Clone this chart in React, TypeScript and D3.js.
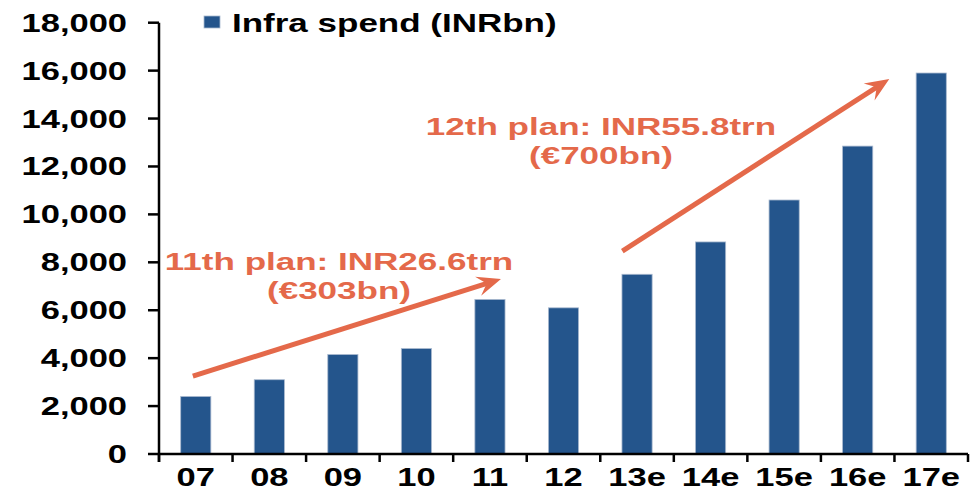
import React from "react";
import * as d3 from "d3";

const categories = ["07", "08", "09", "10", "11", "12", "13e", "14e", "15e", "16e", "17e"];
const infraSpend = [2400, 3100, 4150, 4400, 6450, 6100, 7500, 8850, 10600, 12850, 15900];
const yTicks = [0, 2000, 4000, 6000, 8000, 10000, 12000, 14000, 16000, 18000];
const seriesName = "Infra spend (INRbn)";
// arrow endpoints: [category index position, value]
const plan11Lines = ["11th plan: INR26.6trn", "(€303bn)"];
const plan11Arrow = [[-0.04, 3250], [4.15, 7300]];
const plan12Lines = ["12th plan: INR55.8trn", "(€700bn)"];
const plan12Arrow = [[5.8, 8470], [9.43, 15650]];

const W = 975, H = 493;
const left = 159, right = 968, top = 22.7, bottom = 454;
const BAR = "#24558C";
const ORANGE = "#E4694A";
const SX = 1.38;
const FONT = "'Liberation Sans', Arial, sans-serif";

function SText({ x, y, anchor, size, color, sx, children }: any) {
  return (
    <text
      transform={`translate(${x},${y}) scale(${sx ?? SX},1)`}
      textAnchor={anchor}
      fontFamily={FONT}
      fontWeight="bold"
      fontSize={size}
      fill={color}
    >
      {children}
    </text>
  );
}

export default function App() {
  const x = d3.scaleBand<string>().domain(categories).range([left, right]).paddingInner(0.59).paddingOuter(0.295);
  const xb = d3.scaleBand<string>().domain(categories).range([left, right]);
  const y = d3.scaleLinear().domain([0, 18000]).range([bottom, top]);
  const cx = (c: string) => (xb(c) as number) + xb.bandwidth() / 2;
  const xi = d3.scaleLinear().domain([0, categories.length - 1]).range([cx(categories[0]), cx(categories[categories.length - 1])]);

  const arrow = (x1: number, y1: number, x2: number, y2: number) => {
    const ang = Math.atan2(y2 - y1, x2 - x1);
    const L = 24, Wd = 10, N = 15;
    const ux = Math.cos(ang), uy = Math.sin(ang);
    const px = -uy, py = ux;
    const bx = x2 - ux * L, by = y2 - uy * L;
    const nx = x2 - ux * N, ny = y2 - uy * N;
    const pts = [
      [x2, y2],
      [bx + px * Wd, by + py * Wd],
      [nx, ny],
      [bx - px * Wd, by - py * Wd],
    ];
    return { line: [x1, y1, nx + ux * 2, ny + uy * 2], head: pts.map((p) => p.join(",")).join(" ") };
  };

  const annotations = [
    { lines: plan11Lines, arr: plan11Arrow, lx: 339, ly: 270 },
    { lines: plan12Lines, arr: plan12Arrow, lx: 601, ly: 135 },
  ];

  return (
    <svg width={W} height={H} style={{ position: "absolute", left: 0, top: 0 }}>
      <rect width={W} height={H} fill="#fff" />
      {categories.map((c, i) => (
        <rect
          key={c}
          x={x(c)}
          y={y(infraSpend[i])}
          width={x.bandwidth()}
          height={bottom - y(infraSpend[i])}
          fill={BAR}
          stroke="#a9b9cf"
          strokeWidth={0.8}
        />
      ))}
      <line x1={left} x2={left} y1={top} y2={bottom + 8} stroke="#000" strokeWidth={2.5} />
      {yTicks.map((t) => (
        <g key={t}>
          <line x1={left - 11} x2={left} y1={y(t)} y2={y(t)} stroke="#000" strokeWidth={2.5} />
          <SText x={127} y={y(t) + 9} anchor="end" size={25} color="#000">
            {d3.format(",")(t)}
          </SText>
        </g>
      ))}
      <line x1={left} x2={right} y1={bottom} y2={bottom} stroke="#000" strokeWidth={2.5} />
      {categories.concat(["end"]).map((c, i) => {
        const xp = left + xb.step() * i;
        return <line key={"t" + i} x1={xp} x2={xp} y1={bottom} y2={bottom + 8} stroke="#000" strokeWidth={2.5} />;
      })}
      {categories.map((c) => (
        <SText key={"l" + c} x={cx(c)} y={486} anchor="middle" size={25} color="#000">
          {c}
        </SText>
      ))}
      <rect x={204} y={16} width={16} height={12} fill={BAR} stroke="#a9b9cf" strokeWidth={0.8} />
      <SText x={232} y={32} anchor="start" size={25} color="#000" sx={1.4}>
        {seriesName}
      </SText>
      {annotations.map((a, k) => {
        const ar = arrow(xi(a.arr[0][0]), y(a.arr[0][1]), xi(a.arr[1][0]), y(a.arr[1][1]));
        return (
          <g key={"a" + k}>
            <line x1={ar.line[0]} y1={ar.line[1]} x2={ar.line[2]} y2={ar.line[3]} stroke={ORANGE} strokeWidth={5} />
            <polygon points={ar.head} fill={ORANGE} />
            {a.lines.map((ln, j) => (
              <SText key={j} x={a.lx} y={a.ly + j * 29} anchor="middle" size={24} color={ORANGE} sx={1.46}>
                {ln}
              </SText>
            ))}
          </g>
        );
      })}
    </svg>
  );
}
